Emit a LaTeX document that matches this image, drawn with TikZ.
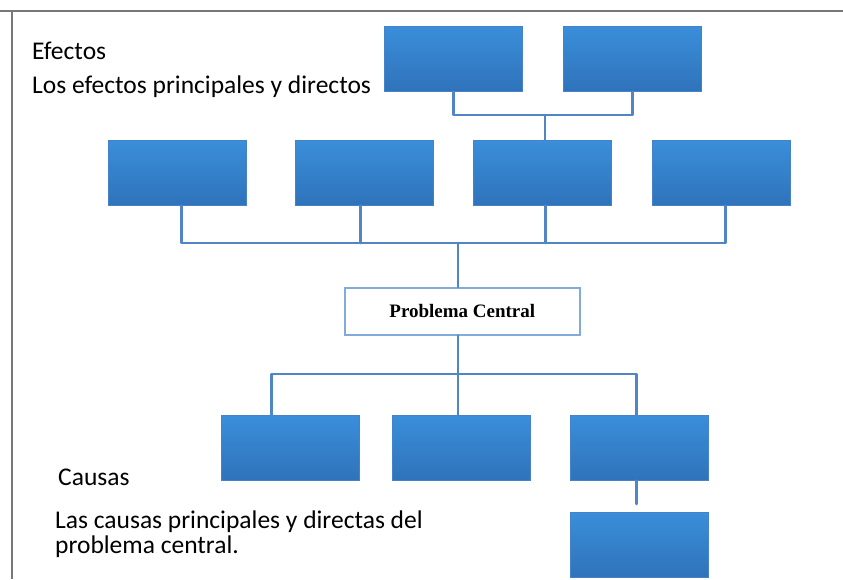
\documentclass[tikz,border=0pt]{standalone}
\usepackage{fontspec}
\setmainfont{Carlito}
\newfontfamily\serifbold{Liberation Serif}
\definecolor{boxtop}{RGB}{58,142,218}
\definecolor{boxbot}{RGB}{47,115,186}
\definecolor{boxedge}{RGB}{70,130,200}
\definecolor{linkc}{RGB}{80,134,198}
\definecolor{pcedge}{RGB}{130,170,218}
\definecolor{framec}{RGB}{120,120,120}
\begin{document}
\begin{tikzpicture}[x=1pt,y=-1pt,
  bluebox/.style={draw=boxedge,line width=0.6pt,top color=boxtop,bottom color=boxbot,minimum width=138pt,minimum height=65pt,inner sep=0pt,anchor=north west},
  link/.style={draw=linkc,line width=2.6pt,line cap=round,line join=round},
  lbl/.style={anchor=base west,inner sep=0pt,font=\fontsize{25.5}{26}\selectfont}]
\useasboundingbox (0,0) rectangle (843,579);
\fill[white] (0,0) rectangle (843,579);
% frame
\draw[framec,line width=2.5pt] (0,11) -- (843,11);
\draw[framec,line width=2pt] (12,11) -- (12,579);
% top row
\node[bluebox] (t1) at (384,26) {};
\node[bluebox] (t2) at (563,26) {};
% second row
\node[bluebox] (e1) at (108,140) {};
\node[bluebox] (e2) at (295,140) {};
\node[bluebox] (e3) at (473,140) {};
\node[bluebox] (e4) at (652,140) {};
% central
\node[draw=pcedge,line width=1.6pt,fill=white,minimum width=235pt,minimum height=47pt,inner sep=0pt,anchor=north west] (pc) at (344,287) {\serifbold\bfseries\fontsize{19}{20}\selectfont Problema Central};
% causes
\node[bluebox] (c1) at (221,415) {};
\node[bluebox] (c2) at (392,415) {};
\node[bluebox] (c3) at (570,415) {};
\node[bluebox] (c4) at (570,512) {};
% coordinates for bars
\coordinate (tb) at (545,115);
\coordinate (eb) at (458,243);
\coordinate (cb) at (458,374);
% top connectors
\draw[link] (t1.south) -- (t1.south |- tb) -- (t2.south |- tb) -- (t2.south);
\draw[link] (tb) -- (tb |- e3.north);
% effect connectors
\draw[link] ([xshift=4pt]e1.south) |- (eb);
\draw[link] ([xshift=4pt]e4.south) |- (eb);
\draw[link] ([xshift=-4pt]e2.south) -- ([xshift=-4pt]e2.south |- eb);
\draw[link] ([xshift=3pt]e3.south) -- ([xshift=3pt]e3.south |- eb);
\draw[link] (eb) -- (eb |- pc.north);
% cause connectors
\draw[link] (pc.south -| cb) -- (cb);
\draw[link] ([xshift=-19pt]c1.north) |- (cb);
\draw[link] ([xshift=-3pt]c3.north) |- (cb);
\draw[link] (cb) -- (cb |- c2.north);
\draw[link] ([xshift=-3pt]c3.south) -- ([xshift=-3pt,yshift=8pt]c4.north);
% labels
\node[lbl] (ef) at (32,59) {Efectos};
\node[lbl] (efd) at (32,93) {Los efectos principales y directos};
\node[lbl] (ca) at (58,485) {Causas};
\node[lbl] (cad1) at (55,528) {Las causas principales y directas del};
\node[lbl] (cad2) at (55,553) {problema central.};
\end{tikzpicture}
\end{document}
